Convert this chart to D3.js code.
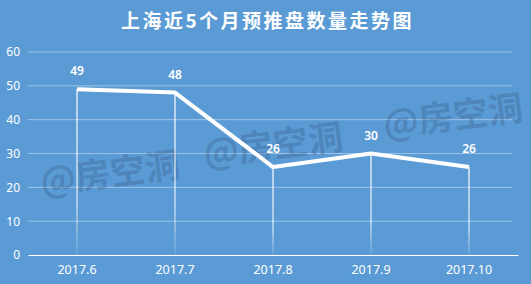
<!DOCTYPE html>
<html>
<head>
<meta charset="utf-8">
<script src="https://cdn.jsdelivr.net/npm/d3@7"></script>
<style>
  body { margin: 0; background: #5b9bd5; }
  svg { display: block; }
</style>
</head>
<body>
<svg></svg>
<script>
/* 上海近5个月预推盘数量 */
var w = 531, h = 284;

var months = ["2017.6", "2017.7", "2017.8", "2017.9", "2017.10"];
var counts = [49, 48, 26, 30, 26];
var yTicks = [0, 10, 20, 30, 40, 50, 60];

var margin = {top: 52, right: 13, bottom: 29, left: 28};

var svg = d3.select("svg")
            .attr("width", w)
            .attr("height", h);

svg.append("rect")
   .attr("width", w)
   .attr("height", h)
   .attr("fill", "#5b9bd5");

var defs = svg.append("defs");
var grad = defs.append("linearGradient")
               .attr("id", "drop")
               .attr("x1", 0).attr("y1", 0)
               .attr("x2", 0).attr("y2", 1);
grad.append("stop").attr("offset", "0%").attr("stop-color", "#fff").attr("stop-opacity", 1);
grad.append("stop").attr("offset", "70%").attr("stop-color", "#fff").attr("stop-opacity", 0.8);
grad.append("stop").attr("offset", "100%").attr("stop-color", "#fff").attr("stop-opacity", 0.1);

var x = d3.scaleBand()
          .domain(months)
          .range([margin.left, w - margin.right]);

var y = d3.scaleLinear()
          .domain([0, 60])
          .range([h - margin.bottom, margin.top]);

// title
svg.append("text")
   .attr("x", w / 2 + 2)
   .attr("y", 28)
   .attr("text-anchor", "middle")
   .attr("fill", "#fff")
   .attr("font-family", "Noto Sans CJK SC")
   .attr("font-weight", "bold")
   .attr("font-size", 19)
   .attr("letter-spacing", 2.5)
   .text("上海近5个月预推盘数量走势图");

// gridlines
svg.append("g")
   .selectAll("line")
   .data(yTicks.filter(function(d) { return d > 0; }))
   .enter()
   .append("line")
   .attr("x1", margin.left)
   .attr("x2", w - margin.right - 6)
   .attr("y1", function(d) { return y(d); })
   .attr("y2", function(d) { return y(d); })
   .attr("stroke", "#9fc3e7")
   .attr("stroke-width", 1);

// watermarks
var marks = [[42, 194], [205, 166], [385, 137]];
svg.append("g")
   .selectAll("text")
   .data(marks)
   .enter()
   .append("text")
   .attr("transform", function(d) { return "translate(" + d[0] + "," + d[1] + ") rotate(-7)"; })
   .attr("fill", "#2e4f78")
   .attr("fill-opacity", 0.28)
   .attr("font-family", "Noto Sans CJK SC")
   .attr("font-weight", "bold")
   .attr("font-size", 35)
   .text("@房空洞");

// y axis labels
var yAxis = d3.axisLeft(y)
              .tickValues(yTicks)
              .tickSize(0)
              .tickPadding(8);
var gy = svg.append("g")
            .attr("transform", "translate(" + margin.left + ",0)")
            .call(yAxis);
gy.select(".domain").remove();
gy.selectAll("text")
  .attr("fill", "#fff")
  .attr("font-family", "Noto Sans")
  .attr("font-size", 12);

// x axis
var xAxis = d3.axisBottom(x).tickSize(0).tickPadding(10);
var gx = svg.append("g")
            .attr("transform", "translate(0," + y(0) + ")")
            .call(xAxis);
gx.select(".domain").attr("stroke", "#fff").attr("stroke-width", 1.2);
gx.selectAll("text")
  .attr("fill", "#fff")
  .attr("font-family", "Noto Sans")
  .attr("font-size", 12.5);

var cx = function(d, i) { return x(months[i]) + x.bandwidth() / 2; };

// drop lines
svg.append("g")
   .selectAll("rect")
   .data(counts)
   .enter()
   .append("rect")
   .attr("x", function(d, i) { return cx(d, i) - 0.6; })
   .attr("y", function(d) { return y(d); })
   .attr("width", 1.2)
   .attr("height", function(d) { return y(0) - y(d); })
   .attr("fill", "url(#drop)");

// line
var line = d3.line()
             .x(cx)
             .y(function(d) { return y(d); });
svg.append("path")
   .datum(counts)
   .attr("d", line)
   .attr("fill", "none")
   .attr("stroke", "#fff")
   .attr("stroke-width", 4)
   .attr("stroke-linejoin", "round");

// data labels
svg.append("g")
   .selectAll("text")
   .data(counts)
   .enter()
   .append("text")
   .attr("x", cx)
   .attr("y", function(d) { return y(d) - 14; })
   .attr("text-anchor", "middle")
   .attr("fill", "#fff")
   .attr("font-family", "Noto Sans")
   .attr("font-weight", 600)
   .attr("font-size", 12)
   .text(function(d) { return d; });
</script>
</body>
</html>
